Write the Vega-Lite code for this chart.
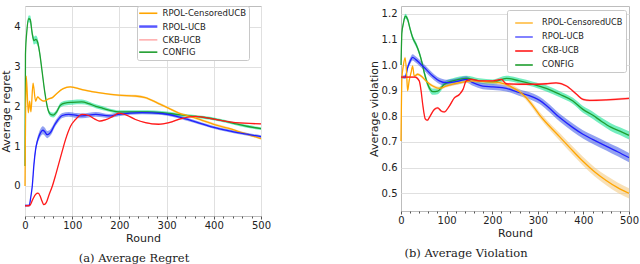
{
"$schema": "https://vega.github.io/schema/vega-lite/v6.json",
"padding": {"left": 0, "top": 0, "right": 2, "bottom": 0},
"background": "white",
"config": {
  "font": "DejaVu Sans",
  "view": {"stroke": "#bdbdbd", "strokeWidth": 1},
  "axis": {"labelFontSize": 10, "titleFontSize": 11, "titleFontWeight": "normal", "labelColor": "#222", "titleColor": "#222", "gridColor": "#e0e0e0", "domain": false, "tickColor": "#555"},
  "legend": {"symbolType": "stroke", "symbolSize": 100, "symbolOffset": 4, "symbolStrokeWidth": 1.6, "labelFontSize": 8.5, "labelFont": "DejaVu Sans", "labelColor": "#222", "fillColor": "white", "strokeColor": "#c8c8c8", "padding": 3, "rowPadding": 1.7, "labelOffset": 10, "cornerRadius": 2},
  "title": {"font": "DejaVu Serif", "fontSize": 11.5, "fontWeight": "normal", "color": "#222"},
  "concat": {"spacing": 95}
},
"datasets": {
"reg": [
{"s":"CONFIG","x":0,"y":0.5,"lo":0.48,"hi":0.52},
{"s":"CONFIG","x":1,"y":3.3,"lo":3.25,"hi":3.35},
{"s":"CONFIG","x":4,"y":3.9,"lo":3.82,"hi":3.98},
{"s":"CONFIG","x":8,"y":4.2,"lo":4.12,"hi":4.28},
{"s":"CONFIG","x":11,"y":4.18,"lo":4.08,"hi":4.28},
{"s":"CONFIG","x":15,"y":3.85,"lo":3.75,"hi":3.95},
{"s":"CONFIG","x":19,"y":3.65,"lo":3.55,"hi":3.75},
{"s":"CONFIG","x":23,"y":3.68,"lo":3.58,"hi":3.78},
{"s":"CONFIG","x":27,"y":3.6,"lo":3.5,"hi":3.7},
{"s":"CONFIG","x":31,"y":3.35,"lo":3.27,"hi":3.43},
{"s":"CONFIG","x":36,"y":2.9,"lo":2.83,"hi":2.97},
{"s":"CONFIG","x":42,"y":2.35,"lo":2.29,"hi":2.41},
{"s":"CONFIG","x":48,"y":1.95,"lo":1.89,"hi":2.01},
{"s":"CONFIG","x":54,"y":1.8,"lo":1.74,"hi":1.86},
{"s":"CONFIG","x":60,"y":1.78,"lo":1.72,"hi":1.84},
{"s":"CONFIG","x":67,"y":1.86,"lo":1.8,"hi":1.92},
{"s":"CONFIG","x":75,"y":2.03,"lo":1.97,"hi":2.09},
{"s":"CONFIG","x":85,"y":2.08,"lo":2.02,"hi":2.14},
{"s":"CONFIG","x":100,"y":2.1,"lo":2.04,"hi":2.16},
{"s":"CONFIG","x":120,"y":2.11,"lo":2.05,"hi":2.17},
{"s":"CONFIG","x":135,"y":2.07,"lo":2.02,"hi":2.12},
{"s":"CONFIG","x":150,"y":2.0,"lo":1.95,"hi":2.05},
{"s":"CONFIG","x":165,"y":1.95,"lo":1.9,"hi":2.0},
{"s":"CONFIG","x":180,"y":1.9,"lo":1.86,"hi":1.94},
{"s":"CONFIG","x":200,"y":1.86,"lo":1.82,"hi":1.9},
{"s":"CONFIG","x":230,"y":1.86,"lo":1.82,"hi":1.9},
{"s":"CONFIG","x":260,"y":1.86,"lo":1.82,"hi":1.9},
{"s":"CONFIG","x":290,"y":1.84,"lo":1.8,"hi":1.88},
{"s":"CONFIG","x":320,"y":1.8,"lo":1.76,"hi":1.84},
{"s":"CONFIG","x":350,"y":1.76,"lo":1.725,"hi":1.795},
{"s":"CONFIG","x":380,"y":1.72,"lo":1.685,"hi":1.755},
{"s":"CONFIG","x":410,"y":1.66,"lo":1.625,"hi":1.695},
{"s":"CONFIG","x":440,"y":1.58,"lo":1.545,"hi":1.615},
{"s":"CONFIG","x":470,"y":1.5,"lo":1.465,"hi":1.535},
{"s":"CONFIG","x":500,"y":1.44,"lo":1.405,"hi":1.475},
{"s":"RPOL-CensoredUCB","x":0,"y":0.0,"lo":-0.01,"hi":0.01},
{"s":"RPOL-CensoredUCB","x":2.75,"y":2.76,"lo":2.74,"hi":2.78},
{"s":"RPOL-CensoredUCB","x":7,"y":1.84,"lo":1.82,"hi":1.86},
{"s":"RPOL-CensoredUCB","x":9.8,"y":2.13,"lo":2.11,"hi":2.15},
{"s":"RPOL-CensoredUCB","x":12.6,"y":1.86,"lo":1.84,"hi":1.88},
{"s":"RPOL-CensoredUCB","x":17,"y":2.58,"lo":2.56,"hi":2.6},
{"s":"RPOL-CensoredUCB","x":22.5,"y":2.13,"lo":2.11,"hi":2.15},
{"s":"RPOL-CensoredUCB","x":26.7,"y":2.24,"lo":2.22,"hi":2.26},
{"s":"RPOL-CensoredUCB","x":31,"y":2.19,"lo":2.17,"hi":2.21},
{"s":"RPOL-CensoredUCB","x":40,"y":2.13,"lo":2.11,"hi":2.15},
{"s":"RPOL-CensoredUCB","x":50,"y":2.19,"lo":2.17,"hi":2.21},
{"s":"RPOL-CensoredUCB","x":58,"y":2.22,"lo":2.2,"hi":2.24},
{"s":"RPOL-CensoredUCB","x":68,"y":2.33,"lo":2.31,"hi":2.35},
{"s":"RPOL-CensoredUCB","x":80,"y":2.44,"lo":2.42,"hi":2.46},
{"s":"RPOL-CensoredUCB","x":96,"y":2.49,"lo":2.47,"hi":2.51},
{"s":"RPOL-CensoredUCB","x":121,"y":2.42,"lo":2.4,"hi":2.44},
{"s":"RPOL-CensoredUCB","x":163,"y":2.33,"lo":2.31,"hi":2.35},
{"s":"RPOL-CensoredUCB","x":198,"y":2.28,"lo":2.255,"hi":2.305},
{"s":"RPOL-CensoredUCB","x":234,"y":2.26,"lo":2.23,"hi":2.29},
{"s":"RPOL-CensoredUCB","x":255,"y":2.22,"lo":2.19,"hi":2.25},
{"s":"RPOL-CensoredUCB","x":283,"y":2.07,"lo":2.04,"hi":2.1},
{"s":"RPOL-CensoredUCB","x":305,"y":1.95,"lo":1.92,"hi":1.98},
{"s":"RPOL-CensoredUCB","x":326,"y":1.83,"lo":1.8,"hi":1.86},
{"s":"RPOL-CensoredUCB","x":350,"y":1.75,"lo":1.72,"hi":1.78},
{"s":"RPOL-CensoredUCB","x":375,"y":1.65,"lo":1.62,"hi":1.68},
{"s":"RPOL-CensoredUCB","x":400,"y":1.55,"lo":1.52,"hi":1.58},
{"s":"RPOL-CensoredUCB","x":430,"y":1.45,"lo":1.42,"hi":1.48},
{"s":"RPOL-CensoredUCB","x":460,"y":1.34,"lo":1.31,"hi":1.37},
{"s":"RPOL-CensoredUCB","x":500,"y":1.19,"lo":1.16,"hi":1.22},
{"s":"RPOL-UCB","x":0,"y":-0.49,"lo":-0.51,"hi":-0.47},
{"s":"RPOL-UCB","x":9,"y":-0.49,"lo":-0.51,"hi":-0.47},
{"s":"RPOL-UCB","x":12,"y":-0.3,"lo":-0.33,"hi":-0.27},
{"s":"RPOL-UCB","x":15.4,"y":0.0,"lo":-0.04,"hi":0.04},
{"s":"RPOL-UCB","x":19,"y":0.55,"lo":0.49,"hi":0.61},
{"s":"RPOL-UCB","x":22.5,"y":0.92,"lo":0.85,"hi":0.99},
{"s":"RPOL-UCB","x":26,"y":1.12,"lo":1.04,"hi":1.2},
{"s":"RPOL-UCB","x":29.6,"y":1.25,"lo":1.16,"hi":1.34},
{"s":"RPOL-UCB","x":34,"y":1.36,"lo":1.26,"hi":1.46},
{"s":"RPOL-UCB","x":38,"y":1.4,"lo":1.3,"hi":1.5},
{"s":"RPOL-UCB","x":42,"y":1.36,"lo":1.26,"hi":1.46},
{"s":"RPOL-UCB","x":47,"y":1.29,"lo":1.2,"hi":1.38},
{"s":"RPOL-UCB","x":52,"y":1.32,"lo":1.24,"hi":1.4},
{"s":"RPOL-UCB","x":56,"y":1.38,"lo":1.3,"hi":1.46},
{"s":"RPOL-UCB","x":62,"y":1.52,"lo":1.45,"hi":1.59},
{"s":"RPOL-UCB","x":68,"y":1.63,"lo":1.56,"hi":1.7},
{"s":"RPOL-UCB","x":79,"y":1.77,"lo":1.71,"hi":1.83},
{"s":"RPOL-UCB","x":93,"y":1.8,"lo":1.74,"hi":1.86},
{"s":"RPOL-UCB","x":110,"y":1.77,"lo":1.71,"hi":1.83},
{"s":"RPOL-UCB","x":121,"y":1.76,"lo":1.7,"hi":1.82},
{"s":"RPOL-UCB","x":150,"y":1.8,"lo":1.74,"hi":1.86},
{"s":"RPOL-UCB","x":178,"y":1.76,"lo":1.71,"hi":1.81},
{"s":"RPOL-UCB","x":198,"y":1.8,"lo":1.75,"hi":1.85},
{"s":"RPOL-UCB","x":248,"y":1.84,"lo":1.8,"hi":1.88},
{"s":"RPOL-UCB","x":290,"y":1.82,"lo":1.78,"hi":1.86},
{"s":"RPOL-UCB","x":333,"y":1.71,"lo":1.67,"hi":1.75},
{"s":"RPOL-UCB","x":375,"y":1.56,"lo":1.525,"hi":1.595},
{"s":"RPOL-UCB","x":400,"y":1.47,"lo":1.435,"hi":1.505},
{"s":"RPOL-UCB","x":430,"y":1.39,"lo":1.355,"hi":1.425},
{"s":"RPOL-UCB","x":460,"y":1.32,"lo":1.285,"hi":1.355},
{"s":"RPOL-UCB","x":500,"y":1.24,"lo":1.205,"hi":1.275},
{"s":"CKB-UCB","x":0,"y":-0.5,"lo":-0.515,"hi":-0.485},
{"s":"CKB-UCB","x":10,"y":-0.49,"lo":-0.505,"hi":-0.475},
{"s":"CKB-UCB","x":16,"y":-0.35,"lo":-0.365,"hi":-0.335},
{"s":"CKB-UCB","x":22.5,"y":-0.21,"lo":-0.225,"hi":-0.195},
{"s":"CKB-UCB","x":27.6,"y":-0.18,"lo":-0.195,"hi":-0.165},
{"s":"CKB-UCB","x":32,"y":-0.25,"lo":-0.265,"hi":-0.235},
{"s":"CKB-UCB","x":36,"y":-0.38,"lo":-0.395,"hi":-0.365},
{"s":"CKB-UCB","x":40,"y":-0.47,"lo":-0.485,"hi":-0.455},
{"s":"CKB-UCB","x":45,"y":-0.42,"lo":-0.435,"hi":-0.405},
{"s":"CKB-UCB","x":51,"y":-0.22,"lo":-0.235,"hi":-0.205},
{"s":"CKB-UCB","x":58,"y":0.0,"lo":-0.015,"hi":0.015},
{"s":"CKB-UCB","x":65,"y":0.28,"lo":0.265,"hi":0.295},
{"s":"CKB-UCB","x":72,"y":0.58,"lo":0.565,"hi":0.595},
{"s":"CKB-UCB","x":79,"y":0.88,"lo":0.865,"hi":0.895},
{"s":"CKB-UCB","x":86,"y":1.17,"lo":1.155,"hi":1.185},
{"s":"CKB-UCB","x":96.5,"y":1.5,"lo":1.485,"hi":1.515},
{"s":"CKB-UCB","x":107,"y":1.67,"lo":1.655,"hi":1.685},
{"s":"CKB-UCB","x":121,"y":1.8,"lo":1.785,"hi":1.815},
{"s":"CKB-UCB","x":135,"y":1.77,"lo":1.755,"hi":1.785},
{"s":"CKB-UCB","x":148,"y":1.68,"lo":1.665,"hi":1.695},
{"s":"CKB-UCB","x":158,"y":1.63,"lo":1.615,"hi":1.645},
{"s":"CKB-UCB","x":170,"y":1.66,"lo":1.645,"hi":1.675},
{"s":"CKB-UCB","x":185,"y":1.74,"lo":1.725,"hi":1.755},
{"s":"CKB-UCB","x":199,"y":1.83,"lo":1.815,"hi":1.845},
{"s":"CKB-UCB","x":215,"y":1.78,"lo":1.765,"hi":1.795},
{"s":"CKB-UCB","x":234,"y":1.67,"lo":1.655,"hi":1.685},
{"s":"CKB-UCB","x":255,"y":1.59,"lo":1.575,"hi":1.605},
{"s":"CKB-UCB","x":283,"y":1.55,"lo":1.535,"hi":1.565},
{"s":"CKB-UCB","x":305,"y":1.59,"lo":1.575,"hi":1.605},
{"s":"CKB-UCB","x":333,"y":1.7,"lo":1.685,"hi":1.715},
{"s":"CKB-UCB","x":361,"y":1.75,"lo":1.735,"hi":1.765},
{"s":"CKB-UCB","x":403,"y":1.67,"lo":1.655,"hi":1.685},
{"s":"CKB-UCB","x":446,"y":1.59,"lo":1.575,"hi":1.605},
{"s":"CKB-UCB","x":500,"y":1.56,"lo":1.545,"hi":1.575}
],
"vio": [
{"s":"CONFIG","x":0,"y":1.0,"lo":0.995,"hi":1.005},
{"s":"CONFIG","x":2,"y":1.126,"lo":1.118,"hi":1.134},
{"s":"CONFIG","x":5,"y":1.16,"lo":1.15,"hi":1.17},
{"s":"CONFIG","x":9.4,"y":1.19,"lo":1.18,"hi":1.2},
{"s":"CONFIG","x":14.5,"y":1.178,"lo":1.168,"hi":1.188},
{"s":"CONFIG","x":20,"y":1.14,"lo":1.13,"hi":1.15},
{"s":"CONFIG","x":25.5,"y":1.107,"lo":1.097,"hi":1.117},
{"s":"CONFIG","x":33,"y":1.08,"lo":1.07,"hi":1.09},
{"s":"CONFIG","x":40,"y":1.048,"lo":1.038,"hi":1.058},
{"s":"CONFIG","x":46,"y":1.01,"lo":1.0,"hi":1.02},
{"s":"CONFIG","x":51,"y":0.97,"lo":0.958,"hi":0.982},
{"s":"CONFIG","x":58.6,"y":0.925,"lo":0.913,"hi":0.937},
{"s":"CONFIG","x":64,"y":0.905,"lo":0.893,"hi":0.917},
{"s":"CONFIG","x":69.6,"y":0.896,"lo":0.884,"hi":0.908},
{"s":"CONFIG","x":80.5,"y":0.898,"lo":0.886,"hi":0.91},
{"s":"CONFIG","x":95,"y":0.925,"lo":0.915,"hi":0.935},
{"s":"CONFIG","x":113.6,"y":0.938,"lo":0.928,"hi":0.948},
{"s":"CONFIG","x":143,"y":0.948,"lo":0.938,"hi":0.958},
{"s":"CONFIG","x":172,"y":0.938,"lo":0.928,"hi":0.948},
{"s":"CONFIG","x":201.6,"y":0.934,"lo":0.924,"hi":0.944},
{"s":"CONFIG","x":231,"y":0.948,"lo":0.938,"hi":0.958},
{"s":"CONFIG","x":260,"y":0.938,"lo":0.928,"hi":0.948},
{"s":"CONFIG","x":289.6,"y":0.925,"lo":0.915,"hi":0.935},
{"s":"CONFIG","x":318.6,"y":0.909,"lo":0.897,"hi":0.921},
{"s":"CONFIG","x":348,"y":0.886,"lo":0.874,"hi":0.898},
{"s":"CONFIG","x":377,"y":0.86,"lo":0.848,"hi":0.872},
{"s":"CONFIG","x":399,"y":0.827,"lo":0.814,"hi":0.84},
{"s":"CONFIG","x":420,"y":0.805,"lo":0.791,"hi":0.819},
{"s":"CONFIG","x":440,"y":0.78,"lo":0.766,"hi":0.794},
{"s":"CONFIG","x":460,"y":0.758,"lo":0.743,"hi":0.773},
{"s":"CONFIG","x":480,"y":0.742,"lo":0.727,"hi":0.757},
{"s":"CONFIG","x":500,"y":0.726,"lo":0.71,"hi":0.742},
{"s":"RPOL-UCB","x":0,"y":0.953,"lo":0.948,"hi":0.958},
{"s":"RPOL-UCB","x":9.4,"y":0.953,"lo":0.945,"hi":0.961},
{"s":"RPOL-UCB","x":14.5,"y":0.99,"lo":0.98,"hi":1.0},
{"s":"RPOL-UCB","x":20,"y":1.015,"lo":1.003,"hi":1.027},
{"s":"RPOL-UCB","x":25.5,"y":1.03,"lo":1.018,"hi":1.042},
{"s":"RPOL-UCB","x":32,"y":1.022,"lo":1.01,"hi":1.034},
{"s":"RPOL-UCB","x":40,"y":1.009,"lo":0.997,"hi":1.021},
{"s":"RPOL-UCB","x":55,"y":0.983,"lo":0.971,"hi":0.995},
{"s":"RPOL-UCB","x":69.6,"y":0.957,"lo":0.945,"hi":0.969},
{"s":"RPOL-UCB","x":84,"y":0.938,"lo":0.926,"hi":0.95},
{"s":"RPOL-UCB","x":99,"y":0.931,"lo":0.919,"hi":0.943},
{"s":"RPOL-UCB","x":128,"y":0.938,"lo":0.926,"hi":0.95},
{"s":"RPOL-UCB","x":143,"y":0.944,"lo":0.932,"hi":0.956},
{"s":"RPOL-UCB","x":157.5,"y":0.931,"lo":0.919,"hi":0.943},
{"s":"RPOL-UCB","x":179.5,"y":0.918,"lo":0.906,"hi":0.93},
{"s":"RPOL-UCB","x":201.6,"y":0.915,"lo":0.903,"hi":0.927},
{"s":"RPOL-UCB","x":231,"y":0.909,"lo":0.897,"hi":0.921},
{"s":"RPOL-UCB","x":260,"y":0.892,"lo":0.879,"hi":0.905},
{"s":"RPOL-UCB","x":289.6,"y":0.875,"lo":0.861,"hi":0.889},
{"s":"RPOL-UCB","x":304,"y":0.862,"lo":0.848,"hi":0.876},
{"s":"RPOL-UCB","x":320,"y":0.84,"lo":0.825,"hi":0.855},
{"s":"RPOL-UCB","x":348,"y":0.795,"lo":0.78,"hi":0.81},
{"s":"RPOL-UCB","x":377,"y":0.756,"lo":0.74,"hi":0.772},
{"s":"RPOL-UCB","x":399,"y":0.73,"lo":0.714,"hi":0.746},
{"s":"RPOL-UCB","x":420,"y":0.71,"lo":0.693,"hi":0.727},
{"s":"RPOL-UCB","x":450,"y":0.684,"lo":0.667,"hi":0.701},
{"s":"RPOL-UCB","x":475,"y":0.662,"lo":0.644,"hi":0.68},
{"s":"RPOL-UCB","x":500,"y":0.639,"lo":0.621,"hi":0.657},
{"s":"RPOL-CensoredUCB","x":0,"y":0.704,"lo":0.701,"hi":0.707},
{"s":"RPOL-CensoredUCB","x":2,"y":0.95,"lo":0.945,"hi":0.955},
{"s":"RPOL-CensoredUCB","x":5,"y":0.996,"lo":0.991,"hi":1.001},
{"s":"RPOL-CensoredUCB","x":9,"y":1.028,"lo":1.023,"hi":1.033},
{"s":"RPOL-CensoredUCB","x":12,"y":0.977,"lo":0.972,"hi":0.982},
{"s":"RPOL-CensoredUCB","x":14.5,"y":0.9,"lo":0.895,"hi":0.905},
{"s":"RPOL-CensoredUCB","x":18,"y":0.94,"lo":0.935,"hi":0.945},
{"s":"RPOL-CensoredUCB","x":22,"y":0.97,"lo":0.965,"hi":0.975},
{"s":"RPOL-CensoredUCB","x":25.5,"y":0.996,"lo":0.991,"hi":1.001},
{"s":"RPOL-CensoredUCB","x":29,"y":0.957,"lo":0.952,"hi":0.962},
{"s":"RPOL-CensoredUCB","x":36.6,"y":0.964,"lo":0.959,"hi":0.969},
{"s":"RPOL-CensoredUCB","x":44,"y":0.957,"lo":0.952,"hi":0.962},
{"s":"RPOL-CensoredUCB","x":55,"y":0.938,"lo":0.933,"hi":0.943},
{"s":"RPOL-CensoredUCB","x":69.6,"y":0.918,"lo":0.912,"hi":0.924},
{"s":"RPOL-CensoredUCB","x":84,"y":0.909,"lo":0.903,"hi":0.915},
{"s":"RPOL-CensoredUCB","x":99,"y":0.918,"lo":0.912,"hi":0.924},
{"s":"RPOL-CensoredUCB","x":128,"y":0.931,"lo":0.925,"hi":0.937},
{"s":"RPOL-CensoredUCB","x":157.5,"y":0.938,"lo":0.932,"hi":0.944},
{"s":"RPOL-CensoredUCB","x":187,"y":0.935,"lo":0.928,"hi":0.942},
{"s":"RPOL-CensoredUCB","x":216,"y":0.931,"lo":0.923,"hi":0.939},
{"s":"RPOL-CensoredUCB","x":245,"y":0.912,"lo":0.903,"hi":0.921},
{"s":"RPOL-CensoredUCB","x":267,"y":0.886,"lo":0.876,"hi":0.896},
{"s":"RPOL-CensoredUCB","x":289.6,"y":0.84,"lo":0.829,"hi":0.851},
{"s":"RPOL-CensoredUCB","x":304,"y":0.805,"lo":0.793,"hi":0.817},
{"s":"RPOL-CensoredUCB","x":318.6,"y":0.775,"lo":0.762,"hi":0.788},
{"s":"RPOL-CensoredUCB","x":348,"y":0.72,"lo":0.705,"hi":0.735},
{"s":"RPOL-CensoredUCB","x":377,"y":0.665,"lo":0.649,"hi":0.681},
{"s":"RPOL-CensoredUCB","x":399,"y":0.625,"lo":0.608,"hi":0.642},
{"s":"RPOL-CensoredUCB","x":425,"y":0.583,"lo":0.565,"hi":0.601},
{"s":"RPOL-CensoredUCB","x":450,"y":0.55,"lo":0.531,"hi":0.569},
{"s":"RPOL-CensoredUCB","x":475,"y":0.522,"lo":0.502,"hi":0.542},
{"s":"RPOL-CensoredUCB","x":500,"y":0.5,"lo":0.48,"hi":0.52},
{"s":"CKB-UCB","x":0,"y":0.953,"lo":0.949,"hi":0.957},
{"s":"CKB-UCB","x":31,"y":0.953,"lo":0.949,"hi":0.957},
{"s":"CKB-UCB","x":40,"y":0.938,"lo":0.934,"hi":0.942},
{"s":"CKB-UCB","x":44,"y":0.9,"lo":0.896,"hi":0.904},
{"s":"CKB-UCB","x":47.6,"y":0.847,"lo":0.843,"hi":0.851},
{"s":"CKB-UCB","x":53.5,"y":0.789,"lo":0.785,"hi":0.793},
{"s":"CKB-UCB","x":58,"y":0.785,"lo":0.781,"hi":0.789},
{"s":"CKB-UCB","x":62,"y":0.795,"lo":0.791,"hi":0.799},
{"s":"CKB-UCB","x":73,"y":0.827,"lo":0.823,"hi":0.831},
{"s":"CKB-UCB","x":80.5,"y":0.833,"lo":0.829,"hi":0.837},
{"s":"CKB-UCB","x":88,"y":0.821,"lo":0.817,"hi":0.825},
{"s":"CKB-UCB","x":95,"y":0.817,"lo":0.813,"hi":0.821},
{"s":"CKB-UCB","x":106,"y":0.84,"lo":0.836,"hi":0.844},
{"s":"CKB-UCB","x":117,"y":0.872,"lo":0.868,"hi":0.876},
{"s":"CKB-UCB","x":128,"y":0.885,"lo":0.881,"hi":0.889},
{"s":"CKB-UCB","x":136,"y":0.905,"lo":0.901,"hi":0.909},
{"s":"CKB-UCB","x":143,"y":0.938,"lo":0.934,"hi":0.942},
{"s":"CKB-UCB","x":154,"y":0.944,"lo":0.94,"hi":0.948},
{"s":"CKB-UCB","x":172,"y":0.938,"lo":0.934,"hi":0.942},
{"s":"CKB-UCB","x":201.6,"y":0.938,"lo":0.934,"hi":0.942},
{"s":"CKB-UCB","x":220,"y":0.944,"lo":0.94,"hi":0.948},
{"s":"CKB-UCB","x":231,"y":0.927,"lo":0.923,"hi":0.931},
{"s":"CKB-UCB","x":260,"y":0.925,"lo":0.921,"hi":0.929},
{"s":"CKB-UCB","x":289.6,"y":0.925,"lo":0.921,"hi":0.929},
{"s":"CKB-UCB","x":318.6,"y":0.927,"lo":0.923,"hi":0.931},
{"s":"CKB-UCB","x":340,"y":0.93,"lo":0.926,"hi":0.934},
{"s":"CKB-UCB","x":363,"y":0.918,"lo":0.914,"hi":0.922},
{"s":"CKB-UCB","x":385,"y":0.886,"lo":0.882,"hi":0.89},
{"s":"CKB-UCB","x":399,"y":0.866,"lo":0.862,"hi":0.87},
{"s":"CKB-UCB","x":414,"y":0.862,"lo":0.858,"hi":0.866},
{"s":"CKB-UCB","x":450,"y":0.864,"lo":0.86,"hi":0.868},
{"s":"CKB-UCB","x":500,"y":0.87,"lo":0.866,"hi":0.874}
]
},
"resolve": {"scale": {"color": "independent", "x": "independent", "y": "independent"}, "legend": {"color": "independent"}},
"hconcat": [
{
  "width": 236, "height": 210,
  "title": {"text": "(a) Average Regret", "orient": "bottom", "anchor": "middle", "dx": -9, "offset": 10},
  "data": {"name": "reg"},
  "encoding": {
    "x": {"field": "x", "type": "quantitative", "scale": {"domain": [0, 500], "nice": false},
          "axis": {"values": [0,20,40,60,80,100,120,140,160,180,200,220,240,260,280,300,320,340,360,380,400,420,440,460,480,500], "labelExpr": "datum.value % 100 === 0 ? datum.label : ''", "labelOverlap": false, "labelFlush": false, "gridOpacity": {"condition": {"test": "datum.value % 100 === 0", "value": 1}, "value": 0}, "tickSize": {"condition": {"test": "datum.value % 100 === 0", "value": 3}, "value": 2}, "labelPadding": 1, "title": "Round", "titlePadding": 2}}
  },
  "layer": [
    {"mark": {"type": "area", "interpolate": "monotone", "opacity": 0.55},
     "encoding": {
       "y": {"field": "lo", "type": "quantitative", "scale": {"domain": [-0.754, 4.52], "nice": false, "zero": false},
             "axis": {"values": [0,1,2,3,4], "labelOverlap": false, "title": "Average regret", "tickSize": 0, "labelPadding": 5, "titlePadding": 2}},
       "y2": {"field": "hi"},
       "color": {"field": "s", "type": "nominal", "scale": {"domain": ["RPOL-CensoredUCB","RPOL-UCB","CKB-UCB","CONFIG"], "range": ["#f3c77a","#3a55e6","#ff8a8a","#00e08a"]}, "legend": null}
     }},
    {"mark": {"type": "line", "interpolate": "monotone", "strokeWidth": 1.3},
     "encoding": {
       "y": {"field": "y", "type": "quantitative",
             "axis": {"values": [0,1,2,3,4], "labelOverlap": false, "title": "Average regret", "tickSize": 0, "labelPadding": 5, "titlePadding": 2}},
       "color": {"field": "s", "type": "nominal", "scale": {"domain": ["RPOL-CensoredUCB","RPOL-UCB","CKB-UCB","CONFIG"], "range": ["#ffa500","#1f1fff","#ff1a1a","#1f9e2f"]},
                 "legend": {"title": null, "orient": "none", "legendX": 112, "legendY": 0, "rowPadding": 3.3,
                            "encode": {"symbols": {"update": {"size": {"value": 330}, "strokeOpacity": {"signal": "datum.value === 'CKB-UCB' ? 0.35 : (datum.value === 'RPOL-UCB' ? 0.75 : 1)"}, "strokeWidth": {"signal": "datum.value === 'RPOL-UCB' ? 2.5 : 1.6"}}}}}}
     }}
  ],
  "resolve": {"scale": {"color": "independent"}}
},
{
  "width": 228, "height": 205,
  "title": {"text": "(b) Average Violation", "orient": "bottom", "anchor": "middle", "dx": -49, "offset": 10},
  "data": {"name": "vio"},
  "layer": [
    {"mark": {"type": "area", "interpolate": "monotone", "opacity": 0.55},
     "encoding": {
       "x": {"field": "x", "type": "quantitative", "scale": {"domain": [0, 500], "nice": false},
             "axis": {"orient": "top", "labels": false, "ticks": false, "domain": false, "grid": false, "title": null, "minExtent": 5, "maxExtent": 5}},
       "y": {"field": "lo", "type": "quantitative", "scale": {"domain": [0.431, 1.23], "nice": false, "zero": false},
             "axis": {"values": [0.5,0.6,0.7,0.8,0.9,1.0,1.1,1.2], "labelOverlap": false, "format": ".1f", "title": "Average violation", "tickSize": 0, "labelPadding": 4, "titlePadding": 2}},
       "y2": {"field": "hi"},
       "color": {"field": "s", "type": "nominal", "scale": {"domain": ["RPOL-CensoredUCB","RPOL-UCB","CKB-UCB","CONFIG"], "range": ["#f3c77a","#3a55e6","#ff8a8a","#00e08a"]}, "legend": null}
     }},
    {"mark": {"type": "line", "interpolate": "monotone", "strokeWidth": 1.3},
     "encoding": {
       "x": {"field": "x", "type": "quantitative",
             "axis": {"values": [0,20,40,60,80,100,120,140,160,180,200,220,240,260,280,300,320,340,360,380,400,420,440,460,480,500], "labelExpr": "datum.value % 100 === 0 ? datum.label : ''", "labelOverlap": false, "labelFlush": false, "gridOpacity": {"condition": {"test": "datum.value % 100 === 0", "value": 1}, "value": 0}, "tickSize": {"condition": {"test": "datum.value % 100 === 0", "value": 3}, "value": 2}, "labelPadding": 1, "title": "Round", "titlePadding": 2}},
       "y": {"field": "y", "type": "quantitative",
             "axis": {"values": [0.5,0.6,0.7,0.8,0.9,1.0,1.1,1.2], "labelOverlap": false, "format": ".1f", "title": "Average violation", "tickSize": 0, "labelPadding": 4, "titlePadding": 2}},
       "color": {"field": "s", "type": "nominal", "scale": {"domain": ["RPOL-CensoredUCB","RPOL-UCB","CKB-UCB","CONFIG"], "range": ["#ffa500","#1f1fff","#ff1a1a","#1f9e2f"]},
                 "legend": {"title": null, "orient": "none", "legendX": 106, "legendY": 4, "labelFontSize": 8.2, "rowPadding": -4, "labelOffset": 8,
                            "encode": {"symbols": {"update": {"size": {"value": 310}, "strokeOpacity": {"signal": "datum.value === 'RPOL-CensoredUCB' ? 0.75 : (datum.value === 'RPOL-UCB' ? 0.7 : 1)"}, "strokeWidth": {"value": 1.6}}}}}}
     }}
  ],
  "resolve": {"scale": {"color": "independent"}, "axis": {"x": "independent"}}
}
]
}
